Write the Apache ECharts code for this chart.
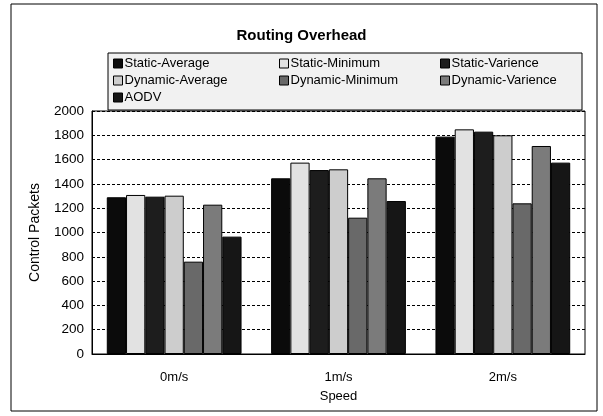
<!DOCTYPE html>
<html>
<head>
<meta charset="utf-8">
<style>
  html, body { margin: 0; padding: 0; background: #ffffff; }
  #chart { width: 603px; height: 416px; }
</style>
<script src="https://cdn.jsdelivr.net/npm/echarts@6/dist/echarts.min.js"></script>
</head>
<body>
<div id="chart"></div>
<script>
// Speeds on the x axis
const speeds = ['0m/s', '1m/s', '2m/s'];

// Control packets per scheme
const staticAverage   = [1290, 1446, 1789];
const staticMinimum   = [1309, 1575, 1849];
const staticVarience  = [1295, 1514, 1830];
const dynamicAverage  = [1303, 1520, 1800];
const dynamicMinimum  = [760, 1122, 1240];
const dynamicVarience = [1229, 1446, 1712];
const aodv            = [966, 1259, 1575];

const yTicks = { min: 0, max: 2000, step: 200 };

const seriesNames = ['Static-Average', 'Static-Minimum', 'Static-Varience',
  'Dynamic-Average', 'Dynamic-Minimum', 'Dynamic-Varience', 'AODV'];
const seriesData = [staticAverage, staticMinimum, staticVarience,
  dynamicAverage, dynamicMinimum, dynamicVarience, aodv];
const seriesColors = ['#0b0b0b', '#e2e2e2', '#1d1d1d', '#cdcdcd', '#696969', '#7b7b7b', '#161616'];

const font = 'Liberation Sans, Arial, sans-serif';

const chart = echarts.init(document.getElementById('chart'));

function legendColumn(names, left) {
  return {
    orient: 'vertical', left: left, top: 57, padding: 0,
    data: names, itemWidth: 9, itemHeight: 9, itemGap: 4,
    icon: 'rect', selectedMode: false,
    textStyle: { fontFamily: font, fontSize: 13, color: '#000', padding: [0, 0, 0, -3] },
    itemStyle: { borderColor: '#000', borderWidth: 1 }
  };
}

chart.setOption({
  animation: false,
  backgroundColor: '#ffffff',
  title: {
    text: 'Routing Overhead', left: 'center', top: 23,
    textStyle: { fontFamily: font, fontSize: 15, fontWeight: 'bold', color: '#000' }
  },
  graphic: [
    { type: 'rect', shape: { x: 11, y: 4, width: 586, height: 407 },
      style: { fill: 'none', stroke: '#000', lineWidth: 1 }, z: -10 },
    { type: 'rect', shape: { x: 108, y: 53, width: 474, height: 57 },
      style: { fill: '#f1f1f1', stroke: '#000', lineWidth: 1 }, z: -5 }
  ],
  legend: [
    legendColumn(['Static-Average', 'Dynamic-Average', 'AODV'], 113),
    legendColumn(['Static-Minimum', 'Dynamic-Minimum'], 279),
    legendColumn(['Static-Varience', 'Dynamic-Varience'], 440)
  ],
  grid: { left: 92, right: 18, top: 111, bottom: 62, show: true,
    borderColor: '#000', borderWidth: 1, backgroundColor: '#fff' },
  xAxis: {
    type: 'category', data: speeds,
    name: 'Speed', nameLocation: 'middle', nameGap: 36,
    nameTextStyle: { fontFamily: font, fontSize: 13, color: '#000' },
    axisLine: { lineStyle: { color: '#000', width: 1 } },
    axisTick: { inside: true, length: 4, lineStyle: { color: '#000' } },
    axisLabel: { fontFamily: font, fontSize: 13, color: '#000', margin: 17 }
  },
  yAxis: {
    type: 'value', min: yTicks.min, max: yTicks.max, interval: yTicks.step,
    name: 'Control Packets', nameLocation: 'middle', nameGap: 50,
    nameTextStyle: { fontFamily: font, fontSize: 14, color: '#000' },
    axisLine: { show: true, lineStyle: { color: '#000' } },
    axisTick: { show: false },
    axisLabel: { fontFamily: font, fontSize: 13.5, color: '#000', margin: 8,
      formatter: v => String(v) },
    splitLine: { lineStyle: { color: '#000', type: [3, 2], width: 1.2 } }
  },
  series: seriesNames.map((name, i) => ({
    name: name, type: 'bar', data: seriesData[i],
    barGap: '0%', barCategoryGap: '18%',
    itemStyle: { color: seriesColors[i], borderColor: '#000', borderWidth: 1 }
  }))
});
</script>
</body>
</html>
